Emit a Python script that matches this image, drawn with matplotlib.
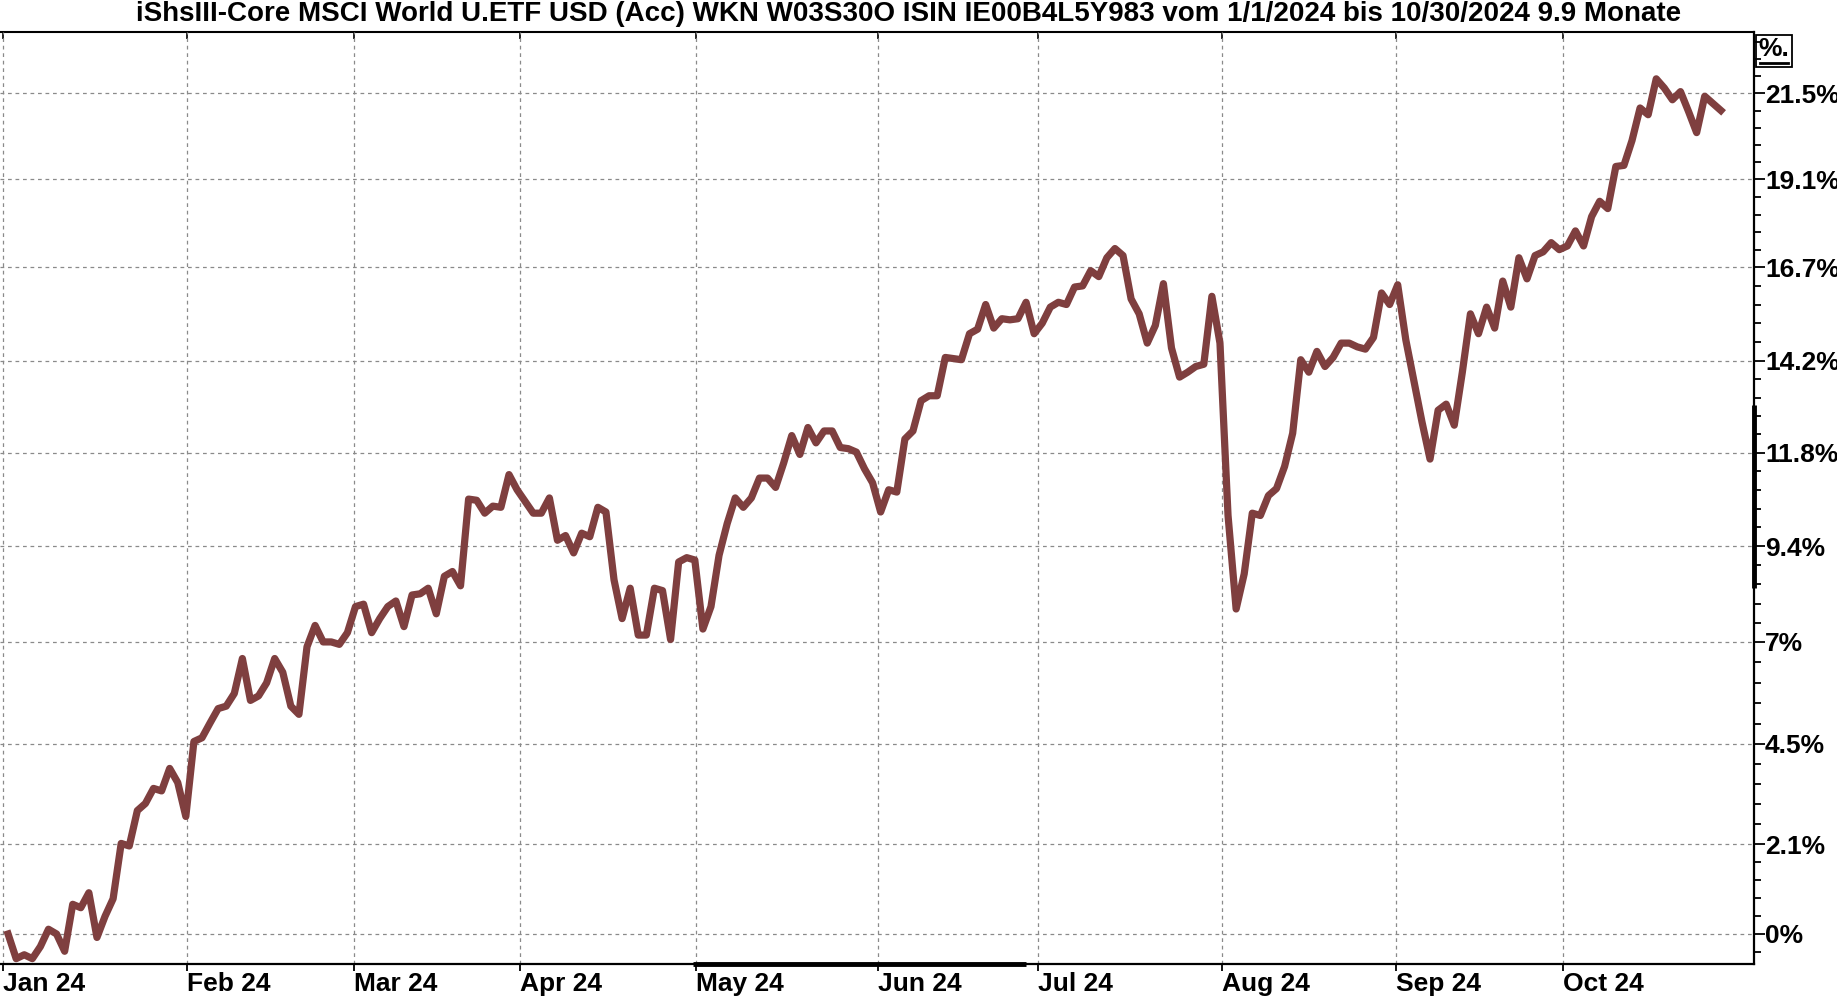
import numpy as np
import matplotlib
matplotlib.use("Agg")
import matplotlib.pyplot as plt
from matplotlib.lines import Line2D
from matplotlib.patches import Rectangle
from matplotlib.ticker import FixedLocator, NullFormatter

plt.rcParams['font.family'] = ['Liberation Sans', 'DejaVu Sans']

title = ("iShsIII-Core MSCI World U.ETF USD (Acc) WKN W03S30O ISIN IE00B4L5Y983 "
         "vom 1/1/2024 bis 10/30/2024 9.9 Monate")

# Wertentwicklung in % seit 1.1.2024, ein Wert je Handelstag
jan = [0.0, -0.57, -0.48, -0.57, -0.29, 0.11, 0.0, -0.40, 0.69, 0.61, 0.96,
       -0.08, 0.41, 0.82, 2.12, 2.06, 2.90, 3.07, 3.43, 3.37, 3.91, 3.57]
feb = [2.76, 4.56, 4.65, 5.01, 5.36, 5.42, 5.73, 6.59, 5.56, 5.67, 5.99,
       6.59, 6.25, 5.42, 5.22, 6.88, 7.41, 7.00, 7.00, 6.94, 7.23]
mar = [7.88, 7.94, 7.23, 7.58, 7.88, 8.02, 7.38, 8.17, 8.20, 8.34, 7.70,
       8.64, 8.76, 8.40, 10.60, 10.57, 10.24, 10.42, 10.39, 11.23]
apr = [10.84, 10.54, 10.24, 10.24, 10.63, 9.55, 9.67, 9.23, 9.73, 9.64, 10.39,
       10.27, 8.55, 7.58, 8.34, 7.17, 7.17, 8.34, 8.28, 7.06, 9.00, 9.11]
mai = [9.05, 7.32, 7.88, 9.17, 9.97, 10.63, 10.39, 10.63, 11.14, 11.14, 10.90,
       11.53, 12.24, 11.75, 12.45, 12.05, 12.36, 12.36, 11.93, 11.90, 11.81,
       11.38, 11.02]
jun = [10.27, 10.84, 10.78, 12.15, 12.36, 13.15, 13.28, 13.28, 14.29, 14.26,
       14.23, 14.92, 15.04, 15.70, 15.07, 15.32, 15.29, 15.32]
jul = [15.76, 14.92, 15.20, 15.63, 15.76, 15.70, 16.17, 16.20, 16.61, 16.45,
       16.96, 17.21, 17.02, 15.85, 15.45, 14.67, 15.14, 16.26, 14.54, 13.77,
       13.90, 14.05, 14.11]
aug = [15.92, 14.67, 10.18, 7.82, 8.70, 10.24, 10.18, 10.69, 10.87, 11.44,
       12.30, 14.23, 13.90, 14.45, 14.05, 14.29, 14.67, 14.67, 14.57, 14.51,
       14.82, 16.01]
sep_okt = [15.70, 16.23, 14.76, 13.68, 12.60, 11.63, 12.90, 13.06, 12.51, 13.90,
           15.45, 14.92, 15.63, 15.07, 16.33, 15.63, 16.96, 16.39, 17.02, 17.12,
           17.37, 17.18, 17.28, 17.69, 17.28, 18.08, 18.50, 18.30, 19.46, 19.49,
           20.18, 21.09, 20.90, 21.91, 21.65, 21.32, 21.55, 20.99, 20.40, 21.42,
           21.22, 21.02]
perf = np.array(jan + feb + mar + apr + mai + jun + jul + aug + sep_okt)
tage = np.arange(len(perf))

month_labels = ["Jan 24", "Feb 24", "Mar 24", "Apr 24", "May 24", "Jun 24",
                "Jul 24", "Aug 24", "Sep 24", "Oct 24"]
month_pos = [-0.6, 22.1, 42.8, 63.4, 85.2, 107.7, 127.5, 150.2, 171.8, 192.4]

y_ticks = [0, 2.1, 4.5, 7, 9.4, 11.8, 14.2, 16.7, 19.1, 21.5]
y_labels = ["0%", "2.1%", "4.5%", "7%", "9.4%", "11.8%", "14.2%", "16.7%",
            "19.1%", "21.5%"]

W, H = 1837, 997
fig = plt.figure(figsize=(W / 100, H / 100), dpi=100)
ax = fig.add_axes([0.0, 1 - 964 / H, 1754 / W, (964 - 32) / H])

ax.plot(tage, 1 + perf / 100, color='#7f3f3f', lw=5.2)

ax.set_yscale('log')
ax.set_ylim(0.99307, 1.2324)
ax.set_xlim(-1.0, 216.1)

# y-Achse rechts, Hilfsstriche geometrisch zwischen den Hauptlinien
major = np.log(1 + np.array(y_ticks) / 100)
ext = np.concatenate([[major[0] - (major[1] - major[0])], major,
                      [major[-1] + (major[-1] - major[-2])]])
minor = []
for a, b in zip(ext[:-1], ext[1:]):
    minor.extend(np.linspace(a, b, 6)[1:-1])
ax.yaxis.set_major_locator(FixedLocator(1 + np.array(y_ticks) / 100))
ax.yaxis.set_minor_locator(FixedLocator(np.exp(minor)))
ax.yaxis.set_minor_formatter(NullFormatter())
ax.set_yticklabels(y_labels)
ax.yaxis.tick_right()
ax.tick_params(axis='y', which='major', direction='out', length=8, width=1.3,
               labelsize=19, pad=0)
ax.tick_params(axis='y', which='minor', direction='out', length=5, width=1.3)

ax.set_xticks(month_pos)
ax.set_xticklabels(month_labels, ha='left')
ax.tick_params(axis='x', which='major', direction='out', length=5, width=1.3,
               labelsize=19, pad=1)
for lab in ax.get_xticklabels() + ax.get_yticklabels():
    lab.set_fontweight('bold')

top = ax.secondary_xaxis('top')
top.set_xticks(month_pos)
top.tick_params(direction='in', length=5, width=1.2, labeltop=False)
top.spines['top'].set_linewidth(1.5)

ax.grid(True, which='major', linestyle=(0, (3, 3)), color='#8a8a8a', lw=0.9)

ax.spines['left'].set_visible(False)
ax.spines['top'].set_visible(False)
ax.spines['bottom'].set_linewidth(1.6)
ax.spines['right'].set_linewidth(1.6)

# Schieberegler-Markierungen auf den Achsen
ax.plot([0.395, 0.585], [0, 0], transform=ax.transAxes, color='black', lw=3.5,
        solid_capstyle='butt', clip_on=False)
ax.plot([1, 1], [0.403, 0.6], transform=ax.transAxes, color='black', lw=3.5,
        solid_capstyle='butt', clip_on=False)

fig.text(0.4945, 1 - 14 / H, title, ha='center', va='center', fontsize=20,
         fontweight='bold')

# Einheitenkasten oben rechts
fig.add_artist(Rectangle((1756 / W, 1 - 67 / H), 36 / W, 32 / H,
                         transform=fig.transFigure, fill=False, lw=1.3,
                         edgecolor='black'))
fig.text(1774 / W, 1 - 49 / H, "%.", ha='center', va='center', fontsize=19,
         fontweight='bold')
fig.add_artist(Line2D([1760 / W, 1788 / W], [1 - 63 / H, 1 - 63 / H],
                      transform=fig.transFigure, color='black', lw=2))

fig.savefig('out.png', dpi=100)
